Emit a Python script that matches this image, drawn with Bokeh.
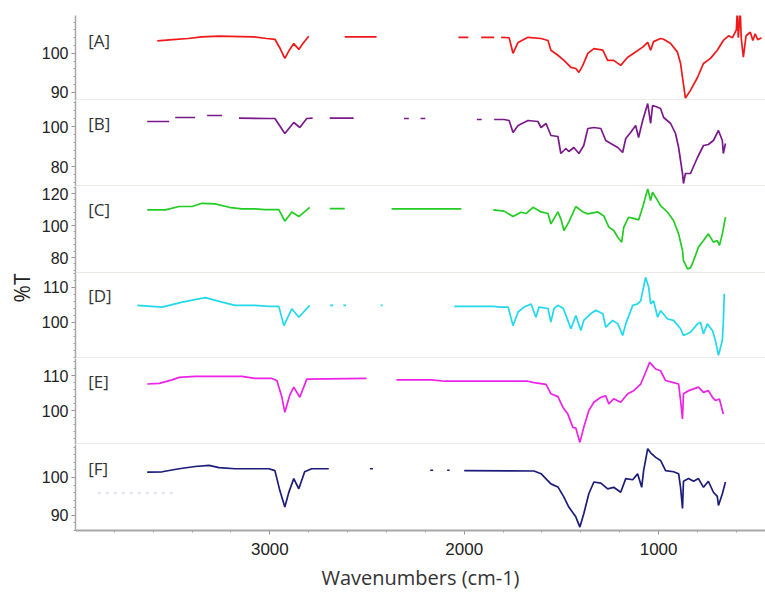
import numpy as np
from bokeh.plotting import figure
from bokeh.layouts import column
from bokeh.models import Range1d, FixedTicker, Span, Label
from bokeh.embed import file_html
from bokeh.resources import INLINE

G = (None, None)  # gap marker

spec_A = [(3579,103.2),(3500,103.5),(3421,103.8),(3350,104.2),(3263,104.4),(3150,104.3),(3083,104.2),(3016,103.8),
          (2974,103.6),(2950,101.5),(2923,98.7),(2900,100.8),(2877,102.5),(2851,101.0),(2830,102.5),(2800,104.4), G,
          (2615,104.2),(2451,104.2), G, (2030,104.1),(1979,104.1), G, (1913,104.1),(1846,104.1), G,
          (1810,104.1),(1769,104.0),(1749,100.0),(1723,102.8),(1672,104.1),(1605,103.8),(1569,103.3),(1554,100.8),
          (1518,99.5),(1487,98.2),(1451,96.4),(1426,96.1),(1410,95.1),(1390,96.9),(1364,100.0),(1333,101.2),
          (1287,100.8),(1262,98.2),(1231,98.2),(1195,96.9),(1159,99.0),(1128,100.0),(1082,101.6),(1056,102.8),
          (1041,100.8),(1026,103.0),(990,103.8),(974,103.6),(938,102.5),(903,100.3),(887,97.4),(877,93.8),
          (862,88.5),(836,90.5),(800,93.8),(769,97.4),(733,98.7),(698,100.8),(667,103.3),(640,104.5),(620,104.0),
          (600,106.0),(595,111.0),(590,104.0),(580,111.0),(575,104.0),(564,99.0),(550,104.5),(528,105.4),
          (515,103.3),(503,105.0),(490,103.5),(470,104.0)]

spec_B = [(3631,102.5),(3518,102.5), G, (3487,104.5),(3385,104.5), G, (3323,105.5),(3246,105.5), G,
          (3159,104.2),(3005,104.0),(2974,104.0),(2923,96.5),(2877,102.0),(2846,99.5),(2810,104.0),(2780,104.2), G,
          (2692,104.2),(2569,104.2), G, (2310,104.0),(2285,104.0), G, (2225,104.0),(2200,104.0), G,
          (1935,103.5),(1910,103.5), G, (1846,103.5),(1795,103.5),(1769,103.0),(1749,97.0),(1723,100.5),
          (1672,103.0),(1621,102.5),(1605,99.5),(1579,101.5),(1554,95.5),(1518,95.0),(1503,86.5),(1477,89.0),
          (1462,87.5),(1436,89.5),(1410,86.5),(1385,90.5),(1364,99.0),(1333,99.5),(1297,99.0),(1272,93.0),
          (1246,91.5),(1210,89.5),(1185,87.0),(1169,94.0),(1144,97.0),(1118,100.5),(1103,94.5),(1082,103.0),
          (1056,111.5),(1041,101.5),(1031,110.5),(1015,110.0),(990,109.0),(974,104.5),(938,101.5),(913,96.5),
          (897,89.5),(877,76.5),(872,71.5),(862,76.5),(836,76.5),(800,84.5),(769,90.5),(744,91.0),(718,93.0),
          (692,98.0),(672,93.0),(667,86.5),(656,91.5)]

spec_C = [(3631,109.8),(3538,109.8),(3467,111.9),(3400,111.9),(3349,113.9),(3282,113.5),(3210,111.4),(3144,110.4),
          (3077,110.4),(3026,110.0),(2954,110.0),(2923,102.7),(2887,108.5),(2851,105.6),(2795,111.4), G,
          (2692,110.6),(2615,110.6), G, (2374,110.4),(2015,110.4), G,
          (1851,109.8),(1795,109.0),(1749,105.6),(1708,108.3),(1682,107.5),(1646,111.4),(1605,108.5),(1569,107.5),
          (1554,101.0),(1518,108.5),(1503,104.2),(1487,96.9),(1462,102.1),(1426,111.9),(1390,108.5),(1364,107.3),
          (1313,108.5),(1282,106.0),(1256,99.0),(1231,96.9),(1210,92.7),(1190,89.6),(1179,99.0),(1154,105.2),
          (1128,104.5),(1103,103.5),(1082,111.4),(1056,122.9),(1041,115.6),(1031,120.8),(1005,115.6),(990,112.5),
          (954,108.3),(923,103.1),(897,94.8),(877,84.4),(872,78.1),(851,72.9),(836,73.5),(820,78.1),(795,86.4),
          (769,90.6),(744,94.8),(718,89.6),(698,90.6),(687,87.5),(672,94.8),(656,105.2)]

spec_D = [(3682,104.9),(3554,104.4),(3451,105.8),(3333,107.1),(3246,105.8),(3179,104.9),(3077,104.9),(3005,104.6),
          (2954,104.6),(2928,99.1),(2887,103.9),(2851,101.5),(2795,104.9), G, (2690,104.9),(2675,104.9), G,
          (2622,104.9),(2608,104.9), G, (2430,104.9),(2420,104.9), G,
          (2051,104.6),(1846,104.6),(1821,104.4),(1774,104.4),(1749,99.1),(1723,103.0),(1692,104.4),(1656,105.3),
          (1631,101.5),(1615,104.4),(1569,104.0),(1554,100.1),(1538,104.0),(1518,104.9),(1490,104.0),(1467,100.6),
          (1451,98.2),(1426,102.0),(1400,97.7),(1385,100.6),(1349,102.5),(1323,103.5),(1287,102.5),(1272,98.7),
          (1236,100.6),(1210,99.6),(1185,96.3),(1169,99.6),(1133,104.9),(1108,105.3),(1092,106.2),(1067,112.9),
          (1051,110.1),(1041,105.3),(1026,106.2),(1005,101.5),(990,103.4),(954,101.0),(923,100.6),(887,98.2),
          (872,96.3),(836,97.2),(800,99.6),(785,100.1),(769,96.8),(749,99.6),(723,97.7),(708,94.9),(692,90.6),
          (672,94.9),(667,100.1),(662,108.2)]

spec_E = [(3631,107.6),(3569,107.8),(3503,108.8),(3467,109.5),(3385,109.8),(3144,109.8),(3077,109.2),(2990,109.2),
          (2964,108.6),(2938,103.8),(2923,99.5),(2897,104.5),(2877,106.7),(2846,103.8),(2810,109.0),(2503,109.2), G,
          (2349,108.8),(2169,108.8),(2100,108.4),(1810,108.4),(1672,108.4),(1641,108.0),(1579,107.5),(1554,104.8),
          (1518,104.0),(1492,100.9),(1467,99.0),(1441,95.2),(1426,95.0),(1405,90.9),(1385,95.2),(1359,100.0),
          (1333,102.4),(1297,103.8),(1272,104.2),(1256,101.9),(1231,103.4),(1195,102.4),(1159,104.8),(1128,105.7),
          (1092,107.6),(1067,110.9),(1046,113.8),(1015,111.9),(990,111.4),(964,108.6),(923,108.0),(897,107.6),
          (887,102.9),(877,97.6),(872,104.8),(846,105.7),(820,106.2),(795,106.7),(769,105.2),(744,105.7),
          (723,103.8),(708,102.9),(687,103.3),(667,99.0)]

spec_F = [(3631,101.4),(3554,101.5),(3467,102.3),(3385,102.9),(3313,103.2),(3262,102.6),(3179,102.3),(3005,102.3),
          (2974,101.8),(2949,96.6),(2923,92.2),(2903,96.0),(2877,99.7),(2851,97.0),(2821,101.5),(2785,102.3),
          (2697,102.3), G, (2485,102.3),(2470,102.3), G, (2175,101.9),(2160,101.9), G, (2088,101.9),(2075,101.9), G,
          (2000,101.8),(1641,101.7),(1605,101.0),(1554,98.3),(1518,97.5),(1487,94.8),(1462,92.2),(1426,89.6),
          (1405,86.9),(1385,90.4),(1359,95.7),(1333,98.8),(1297,98.5),(1262,97.0),(1231,97.4),(1195,96.1),
          (1169,99.7),(1133,99.4),(1108,101.0),(1087,97.4),(1077,101.8),(1056,107.6),(1041,106.5),(1015,105.3),
          (990,104.5),(964,101.8),(923,101.5),(897,101.0),(887,97.4),(877,91.8),(872,99.0),(846,99.7),(820,99.0),
          (795,99.7),(769,97.4),(744,99.0),(718,96.1),(698,95.0),(692,92.6),(672,95.7),(656,98.8)]

spec_F_faint = [(3882,95.9),(3497,95.9)]

panel_names = ["[A]", "[B]", "[C]", "[D]", "[E]", "[F]"]
panel_specs = [spec_A, spec_B, spec_C, spec_D, spec_E, spec_F]
panel_colors = ["#f01818", "#7a1a8a", "#22cc22", "#22d8ec", "#ec22e6", "#1c1c7a"]
panel_yranges = [(87.9, 109.7), (70, 113), (70, 124.4), (89.7, 114), (90.3, 114.9), (86, 108.7)]
panel_yticks = [[90, 100], [80, 100], [80, 100, 120], [100, 110], [100, 110], [90, 100]]
panel_label_y = [103.3, 101.5, 110.0, 107.7, 108.3, 102.4]
panel_heights = [85, 86, 87, 85, 86, 86]
x_ticks = [1000, 2000, 3000]
y_title = "%T"
x_title = "Wavenumbers (cm-1)"


def xy(spec):
    xs = [np.nan if a is None else a for a, b in spec]
    ys = [np.nan if b is None else b for a, b in spec]
    return xs, ys


x_range = Range1d(4000, 450)
figs = []
n = len(panel_specs)
for i in range(n):
    last = i == n - 1
    lo, hi = panel_yranges[i]
    p = figure(x_range=x_range, y_range=Range1d(lo, hi),
               frame_width=690, frame_height=panel_heights[i],
               min_border_left=75, min_border_right=0,
               min_border_top=15 if i == 0 else 0,
               min_border_bottom=62 if last else 0,
               x_axis_location="below" if last else None,
               output_backend="svg", toolbar_location=None,
               title=y_title if i == 3 else None,
               title_location="left")
    p.grid.visible = False
    p.outline_line_color = None
    p.background_fill_color = "white"
    p.border_fill_color = "white"

    if i == 3:
        p.title.align = "right"
        p.title.offset = 0
        p.title.text_font = "Open Sans"
        p.title.text_font_size = "21px"
        p.title.text_font_style = "normal"
        p.title.text_color = "#222222"
        p.title.standoff = 6

    step = (panel_yticks[i][1] - panel_yticks[i][0]) / 5.0
    minor = list(np.arange(panel_yticks[i][0] - 10 * step, hi + step, step))
    p.yaxis.ticker = FixedTicker(ticks=panel_yticks[i], minor_ticks=minor)
    p.yaxis.axis_line_color = "#a8a8a8"
    p.yaxis.axis_line_width = 1.5
    p.yaxis.major_tick_line_color = "#909090"
    p.yaxis.minor_tick_line_color = "#a0a0a0"
    p.yaxis.major_tick_in = 0
    p.yaxis.major_tick_out = 4
    p.yaxis.minor_tick_in = 0
    p.yaxis.minor_tick_out = 2
    p.yaxis.major_label_standoff = 3
    p.yaxis.major_label_text_font = "Liberation Sans"
    p.yaxis.major_label_text_font_size = "16px"
    p.yaxis.major_label_text_color = "#222222"

    xs, ys = xy(panel_specs[i])
    p.line(xs, ys, line_color=panel_colors[i], line_width=1.7)
    if last:
        fx, fy = xy(spec_F_faint)
        p.line(fx, fy, line_color=panel_colors[i], line_width=1.2, line_dash="2 6", line_alpha=0.35)

    p.add_layout(Label(x=3935, y=panel_label_y[i], text=panel_names[i],
                       text_font="Open Sans", text_font_size="17px", text_color="#333333",
                       text_align="left", text_baseline="middle"))
    if not last:
        p.add_layout(Span(location=lo, dimension="width", line_color="#d8d8cc", line_width=2))

    if last:
        p.xaxis.ticker = FixedTicker(ticks=x_ticks, minor_ticks=list(range(600, 4000, 200)))
        p.xaxis.axis_line_color = "#a8a8a8"
        p.xaxis.axis_line_width = 2
        p.xaxis.major_tick_line_color = "#909090"
        p.xaxis.minor_tick_line_color = "#a0a0a0"
        p.xaxis.major_tick_in = 0
        p.xaxis.major_tick_out = 4
        p.xaxis.minor_tick_in = 0
        p.xaxis.minor_tick_out = 2
        p.xaxis.major_label_standoff = 8
        p.xaxis.major_label_text_font = "Liberation Sans"
        p.xaxis.major_label_text_font_size = "17px"
        p.xaxis.major_label_text_color = "#222222"
        p.xaxis.axis_label = x_title
        p.xaxis.axis_label_text_font = "Open Sans"
        p.xaxis.axis_label_text_font_size = "20px"
        p.xaxis.axis_label_text_font_style = "normal"
        p.xaxis.axis_label_text_color = "#333333"
        p.xaxis.axis_label_standoff = 6
    figs.append(p)

layout = column(*figs, spacing=0)
open("out.html", "w").write(file_html(layout, INLINE))
